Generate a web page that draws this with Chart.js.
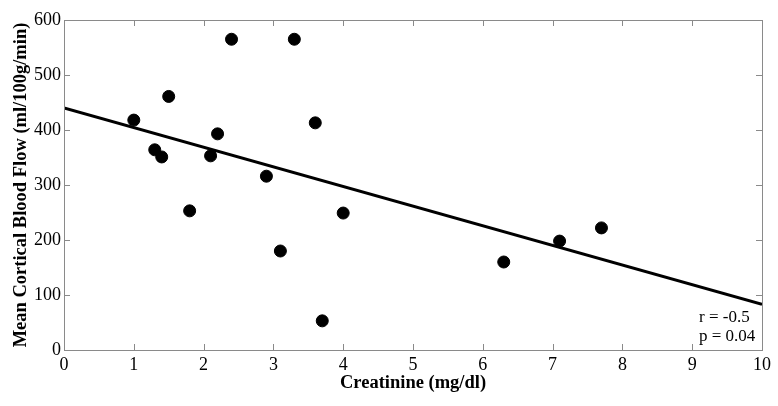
<!DOCTYPE html>
<html>
<head>
<meta charset="utf-8">
<script src="https://cdn.jsdelivr.net/npm/chart.js@4/dist/chart.umd.min.js"></script>
<style>
  html, body { margin: 0; padding: 0; background: #fff; }
  #wrap { width: 778px; height: 406px; }
</style>
</head>
<body>
<div id="wrap"><canvas id="myChart" width="778" height="406"></canvas></div>
<script>
// measured points
const creatinine = [1.0, 1.3, 1.4, 1.5, 1.8, 2.1, 2.2, 2.4, 2.9, 3.1, 3.3, 3.6, 3.7, 4.0, 6.3, 7.1, 7.7];
const bloodFlow = [418, 364, 351, 461, 253, 353, 393, 565, 316, 180, 565, 413, 53, 249, 160, 198, 222];

// regression line ends
const fitX = [0, 10];
const fitY = [440, 83];

const xTicks = [0, 1, 2, 3, 4, 5, 6, 7, 8, 9, 10];
const yTicks = [0, 100, 200, 300, 400, 500, 600];

const statsText = ['r = -0.5', 'p = 0.04'];

const serif = '"Liberation Serif", "Times New Roman", serif';

// inside ticks on all four sides + frame
const frameTicks = {
    id: 'frameTicks',
    afterDatasetsDraw(chart) {
        const c = chart.ctx, a = chart.chartArea;
        const xs = chart.scales.x, ys = chart.scales.y;
        c.save();
        c.strokeStyle = '#8a8a8a';
        c.lineWidth = 1;
        c.beginPath();
        xTicks.forEach(v => {
            const px = Math.round(xs.getPixelForValue(v)) + 0.5;
            c.moveTo(px, a.bottom); c.lineTo(px, a.bottom - 6);
            c.moveTo(px, a.top); c.lineTo(px, a.top + 6);
        });
        yTicks.forEach(v => {
            const py = Math.round(ys.getPixelForValue(v)) + 0.5;
            c.moveTo(a.left, py); c.lineTo(a.left + 6, py);
            c.moveTo(a.right, py); c.lineTo(a.right - 6, py);
        });
        c.stroke();
        c.strokeRect(Math.round(a.left) + 0.5, Math.round(a.top) + 0.5,
            Math.round(a.right - a.left), Math.round(a.bottom - a.top));
        c.fillStyle = '#000';
        c.font = '17px ' + serif;
        c.textAlign = 'left';
        c.textBaseline = 'middle';
        c.fillText(statsText[0], a.right - 63, a.bottom - 32);
        c.fillText(statsText[1], a.right - 63, a.bottom - 13);
        c.restore();
    }
};

const ctx = document.getElementById('myChart').getContext('2d');
const myChart = new Chart(ctx, {
    data: {
        datasets: [{
            type: 'line',
            label: 'fit',
            data: fitX.map((x, i) => ({ x: x, y: fitY[i] })),
            borderColor: '#000',
            borderWidth: 3,
            pointRadius: 0,
            fill: false,
        }, {
            type: 'scatter',
            label: 'data',
            data: creatinine.map((x, i) => ({ x: x, y: bloodFlow[i] })),
            backgroundColor: '#000',
            borderColor: '#000',
            pointRadius: 6,
        }]
    },
    options: {
        responsive: false,
        animation: false,
        layout: { padding: { top: 20, right: 16, left: 0, bottom: 0 } },
        plugins: {
            legend: { display: false },
            tooltip: { enabled: false }
        },
        scales: {
            x: {
                type: 'linear',
                min: 0,
                max: 10,
                afterFit: s => { s.height = 56; },
                afterBuildTicks: s => { s.ticks = xTicks.map(v => ({ value: v })); },
                grid: { display: false, drawTicks: false },
                border: { display: false },
                ticks: { color: '#000', font: { family: serif, size: 18 }, padding: 4 },
                title: {
                    display: true,
                    text: 'Creatinine (mg/dl)',
                    color: '#000',
                    font: { family: serif, size: 18.5, weight: 'bold' },
                    padding: { top: 0, bottom: 12 }
                }
            },
            y: {
                type: 'linear',
                min: 0,
                max: 600,
                afterFit: s => { s.width = 64; },
                afterBuildTicks: s => { s.ticks = yTicks.map(v => ({ value: v })); },
                grid: { display: false, drawTicks: false },
                border: { display: false },
                ticks: { color: '#000', font: { family: serif, size: 18 }, padding: 3 },
                title: {
                    display: true,
                    text: 'Mean Cortical Blood Flow (ml/100g/min)',
                    color: '#000',
                    font: { family: serif, size: 18.5, weight: 'bold' },
                    padding: { top: 10, bottom: 0 }
                }
            }
        }
    },
    plugins: [frameTicks]
});
</script>
</body>
</html>
